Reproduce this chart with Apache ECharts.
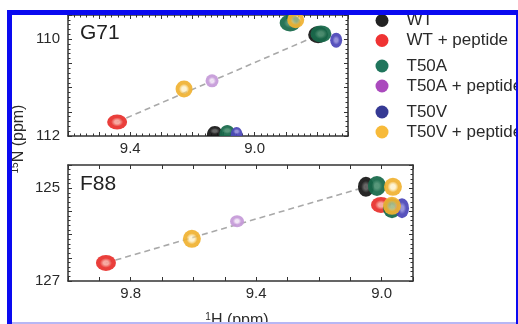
<!DOCTYPE html>
<html>
<head>
<meta charset="utf-8">
<script src="https://cdn.jsdelivr.net/npm/echarts@6/dist/echarts.min.js"></script>
<style>
  html, body { margin: 0; padding: 0; background: #fff; }
  #chart { width: 518px; height: 324px; }
</style>
</head>
<body>
<div id="chart"></div>
<script>
// peak positions [1H ppm, 15N ppm]
// G71 panel
const g71WT = [[8.796, 109.91]];
const g71WTEdge = [[9.128, 112]];
const g71WTPep = [[9.442, 111.71]];
const g71T50A = [[8.787, 109.89], [8.886, 109.665]];
const g71T50AEdge = [[9.088, 112]];
const g71T50APep = [[9.137, 110.86]];
const g71T50V = [[8.738, 110.02]];
const g71T50VEdge = [[9.058, 112]];
const g71T50VPep = [[9.227, 111.03], [8.868, 109.6]];
const g71Shift = [[9.442, 111.71], [8.79, 109.9]];

// F88 panel
const f88WT = [[9.05, 124.97]];
const f88WTPep = [[9.879, 126.61], [9.002, 125.36]];
const f88T50A = [[9.015, 124.95], [8.967, 125.43]];
const f88T50APep = [[9.461, 125.71]];
const f88T50V = [[8.935, 125.43]];
const f88T50VPep = [[9.605, 126.09], [8.964, 124.97], [8.967, 125.38]];
const f88Shift = [[9.879, 126.61], [9.05, 124.97]];

const g71XTicks = [9.4, 9.0];
const g71YTicks = [110, 112];
const f88XTicks = [9.8, 9.4, 9.0];
const f88YTicks = [125, 127];

const NAMES = ["WT", "WT + peptide", "T50A", "T50A + peptide", "T50V", "T50V + peptide"];
const LEGEND_COLORS = ["#111111", "#ee2424", "#0f6a50", "#a43cb8", "#262a8c", "#f6b52a"];
// peak contour colours: [outer, centre]
const PEAK_COLORS = [
  ["#161616", "#5a5a5a"],
  ["#e8302c", "#f6a39a"],
  ["#17694a", "#4a8f70"],
  ["#c59ad8", "#f1e4f6"],
  ["#4b46b8", "#8e8ad8"],
  ["#f0b232", "rgba(252,232,170,0.55)"],
];

const FONT = "Liberation Sans";
const INK = "#2a2a2a";
const DOME = "path://M0,10 C0,3 5,0 10,0 C15,0 20,3 20,10 Z";

function ring(i) {
  const [outer, centre] = PEAK_COLORS[i];
  return new echarts.graphic.RadialGradient(0.5, 0.5, 0.5, [
    { offset: 0, color: centre },
    { offset: 0.25, color: centre },
    { offset: 0.6, color: outer },
    { offset: 1, color: outer },
  ]);
}

function peaks(i, data, gi, size, dome) {
  return {
    name: NAMES[i],
    type: "scatter",
    xAxisIndex: gi * 2,
    yAxisIndex: gi * 2,
    data,
    symbol: dome ? DOME : "circle",
    symbolSize: size,
    symbolOffset: dome ? [0, "-50%"] : [0, 0],
    itemStyle: { color: ring(i), opacity: 0.93 },
    z: 3,
    silent: true,
  };
}

function shiftLine(data, gi) {
  return {
    type: "line",
    xAxisIndex: gi * 2,
    yAxisIndex: gi * 2,
    data,
    symbol: "none",
    lineStyle: { color: "#a9a9a9", width: 1.6, type: [6, 4] },
    z: 2,
    silent: true,
  };
}

function tickFmt(ticks, digits) {
  return (v) => {
    const t = ticks.find((t) => Math.abs(t - v) < 1e-6);
    return t === undefined ? "" : t.toFixed(digits);
  };
}

function axis(gi, position, min, max, interval, minorSplit, ticks, isX) {
  const showLabel = position === "bottom" || position === "left";
  return {
    type: "value",
    gridIndex: gi,
    position,
    min,
    max,
    interval,
    inverse: true,
    axisLine: { onZero: false, lineStyle: { color: "#333", width: 1.5 } },
    axisTick: { inside: true, length: 4, lineStyle: { color: "#333", width: 1 } },
    minorTick: {
      show: minorSplit > 0,
      splitNumber: minorSplit || 5,
      length: 2.5,
      lineStyle: { color: "#333", width: 1 },
    },
    splitLine: { show: false },
    minorSplitLine: { show: false },
    axisLabel: {
      show: showLabel,
      formatter: tickFmt(ticks, isX ? 1 : 0),
      fontSize: 15,
      fontFamily: FONT,
      color: INK,
      margin: isX ? 5 : 8,
      showMinLabel: true,
      showMaxLabel: true,
    },
  };
}

function legendBlock(top, idx) {
  return {
    orient: "vertical",
    left: 375.5,
    top,
    padding: 0,
    itemWidth: 13,
    itemHeight: 13,
    itemGap: 3,
    icon: "circle",
    selectedMode: false,
    data: idx.map((i) => ({ name: NAMES[i], itemStyle: { color: LEGEND_COLORS[i] } })),
    textStyle: {
      fontSize: 17,
      lineHeight: 17,
      color: INK,
      fontFamily: FONT,
      padding: [0, 0, 0, 13],
    },
  };
}

const chart = echarts.init(document.getElementById("chart"), null, { renderer: "canvas" });

chart.setOption({
  animation: false,
  backgroundColor: "#fff",
  grid: [
    { left: 68, top: 15, width: 280, height: 121, outerBoundsMode: "none" },
    { left: 68, top: 165, width: 345, height: 116, outerBoundsMode: "none" },
  ],
  xAxis: [
    axis(0, "bottom", 8.7, 9.6, 0.1, 5, g71XTicks, true),
    axis(0, "top", 8.7, 9.6, 0.1, 5, g71XTicks, true),
    axis(1, "bottom", 8.9, 10.0, 0.1, 0, f88XTicks, true),
    axis(1, "top", 8.9, 10.0, 0.1, 0, f88XTicks, true),
  ],
  yAxis: [
    axis(0, "left", 109.5, 112, 0.5, 5, g71YTicks, false),
    axis(0, "right", 109.5, 112, 0.5, 5, g71YTicks, false),
    axis(1, "left", 124.5, 127, 0.5, 5, f88YTicks, false),
    axis(1, "right", 124.5, 127, 0.5, 5, f88YTicks, false),
  ],
  legend: [legendBlock(12, [0, 1]), legendBlock(57.5, [2, 3]), legendBlock(103.5, [4, 5])],
  series: [
    shiftLine(g71Shift, 0),
    peaks(0, g71WT, 0, [20, 17]),
    peaks(0, g71WTEdge, 0, [16, 10], true),
    peaks(1, g71WTPep, 0, [20, 15]),
    peaks(2, g71T50A, 0, [21, 17]),
    peaks(2, g71T50AEdge, 0, [16, 11], true),
    peaks(3, g71T50APep, 0, [13, 13]),
    peaks(4, g71T50V, 0, [12, 15]),
    peaks(4, g71T50VEdge, 0, [12, 9], true),
    peaks(5, g71T50VPep, 0, [17, 17]),

    shiftLine(f88Shift, 1),
    peaks(0, f88WT, 1, [16, 20]),
    peaks(1, f88WTPep, 1, [20, 16]),
    peaks(2, f88T50A, 1, [18, 20]),
    peaks(3, f88T50APep, 1, [14, 12]),
    peaks(4, f88T50V, 1, [14, 20]),
    peaks(5, f88T50VPep, 1, [18, 18]),
  ],
  graphic: [
    { type: "text", z: 50, style: { text: "G71", x: 80, y: 33, fontSize: 21, fontFamily: FONT, fill: "#222", verticalAlign: "middle" } },
    { type: "text", z: 50, style: { text: "F88", x: 80, y: 184, fontSize: 21, fontFamily: FONT, fill: "#222", verticalAlign: "middle" } },
    {
      type: "text",
      z: 50,
      x: 19,
      y: 139,
      rotation: Math.PI / 2,
      style: {
        text: "{s|15}{m|N (ppm)}",
        align: "center",
        verticalAlign: "middle",
        fill: INK,
        rich: {
          s: { fontSize: 10, fontFamily: FONT, verticalAlign: "top", lineHeight: 17, fill: INK },
          m: { fontSize: 16, fontFamily: FONT, lineHeight: 17, fill: INK },
        },
      },
    },
    {
      type: "text",
      z: 50,
      x: 237,
      y: 321,
      style: {
        text: "{s|1}{m|H (ppm)}",
        align: "center",
        verticalAlign: "middle",
        fill: INK,
        rich: {
          s: { fontSize: 10, fontFamily: FONT, verticalAlign: "top", lineHeight: 17, fill: INK },
          m: { fontSize: 16, fontFamily: FONT, lineHeight: 17, fill: INK },
        },
      },
    },
    // blue frame
    { type: "rect", z: 100, shape: { x: 7, y: 10, width: 511, height: 5 }, style: { fill: "#0a0af0" } },
    { type: "rect", z: 100, shape: { x: 7, y: 10, width: 5, height: 314 }, style: { fill: "#0a0af0" } },
    { type: "rect", z: 100, shape: { x: 516, y: 10, width: 2, height: 314 }, style: { fill: "#0a0af0" } },
    { type: "rect", z: 100, shape: { x: 12, y: 322, width: 504, height: 2 }, style: { fill: "#b7b7f5" } },
  ],
});
</script>
</body>
</html>
